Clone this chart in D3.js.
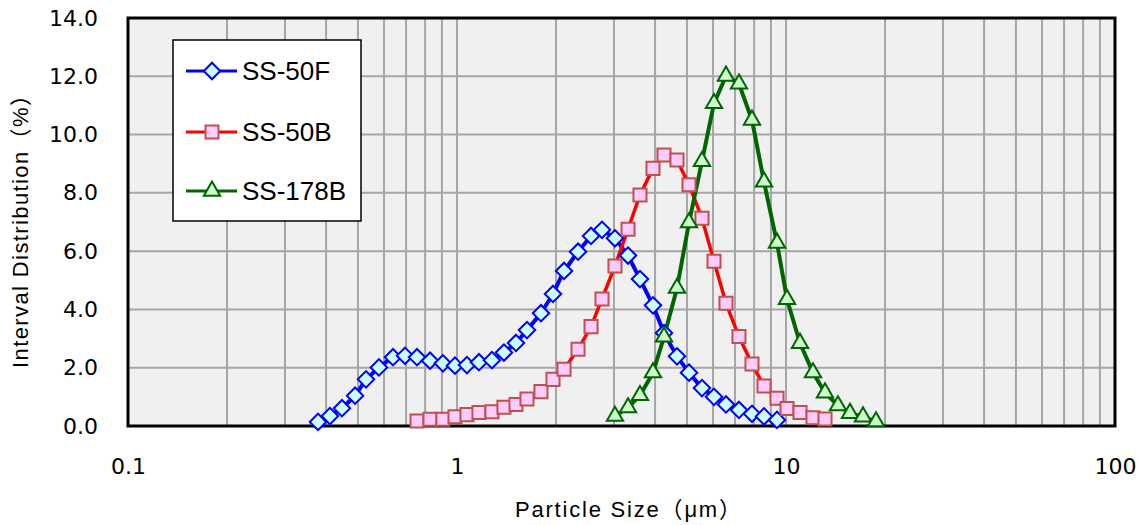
<!DOCTYPE html>
<html>
<head>
<meta charset="utf-8">
<script src="https://cdn.jsdelivr.net/npm/d3@7"></script>
<style>
  body { margin: 0; background: #fff; }
  text { font-family: "Liberation Sans", Arial, "Noto Sans CJK JP", sans-serif; fill: #000; }
  .tick text { font-family: "DejaVu Sans", "Liberation Sans", sans-serif; font-size: 22px; }
</style>
</head>
<body>
<script>
// particle sizes (µm) and interval distribution (%)
const sizes50F = [0.378, 0.411, 0.447, 0.490, 0.529, 0.579, 0.639, 0.695, 0.756, 0.828,
  0.906, 0.986, 1.072, 1.166, 1.277, 1.389, 1.511, 1.632, 1.800, 1.958,
  2.115, 2.333, 2.555, 2.759, 3.021, 3.310, 3.599, 3.942, 4.258, 4.663,
  5.072, 5.554, 6.041, 6.571, 7.196, 7.882, 8.573, 9.389];
const values50F = [0.14, 0.34, 0.61, 1.04, 1.60, 2.01, 2.36, 2.41, 2.36, 2.24,
  2.15, 2.07, 2.09, 2.19, 2.26, 2.52, 2.85, 3.29, 3.87, 4.53,
  5.32, 5.98, 6.52, 6.73, 6.44, 5.85, 5.04, 4.14, 3.19, 2.39,
  1.83, 1.30, 1.00, 0.74, 0.55, 0.42, 0.33, 0.21];

const sizes50B = [0.756, 0.828, 0.906, 0.986, 1.072, 1.166, 1.277, 1.389, 1.511, 1.632,
  1.800, 1.958, 2.115, 2.333, 2.555, 2.759, 3.021, 3.310, 3.599, 3.942,
  4.258, 4.663, 5.072, 5.554, 6.041, 6.571, 7.196, 7.882, 8.573, 9.389,
  10.07, 11.03, 12.08, 13.14];
const values50B = [0.17, 0.23, 0.23, 0.32, 0.39, 0.46, 0.49, 0.64, 0.74, 0.93,
  1.18, 1.60, 1.95, 2.63, 3.41, 4.36, 5.49, 6.75, 7.93, 8.84,
  9.30, 9.13, 8.28, 7.13, 5.65, 4.21, 3.07, 2.13, 1.37, 0.95,
  0.60, 0.46, 0.28, 0.24];

const sizes178B = [3.021, 3.310, 3.599, 3.942, 4.258, 4.663, 5.072, 5.554, 6.041, 6.571,
  7.196, 7.882, 8.573, 9.389, 10.07, 11.03, 12.08, 13.14, 14.39, 15.65,
  17.14, 18.77];
const values178B = [0.34, 0.63, 1.05, 1.83, 3.06, 4.73, 6.98, 9.08, 11.07, 12.01,
  11.74, 10.50, 8.38, 6.28, 4.35, 2.84, 1.83, 1.14, 0.70, 0.44,
  0.32, 0.15];

const seriesNames = ["SS-50F", "SS-50B", "SS-178B"];
const xTickValues = [0.1, 1, 10, 100];
const yTickValues = [0, 2, 4, 6, 8, 10, 12, 14];

const series = [
  { name: seriesNames[0], sizes: sizes50F, values: values50F, line: "#0000ff", lineW: 4,
    shape: "diamond", fill: "#ccffff", stroke: "#0000ff" },
  { name: seriesNames[1], sizes: sizes50B, values: values50B, line: "#ff0000", lineW: 3.5,
    shape: "square", fill: "#ffccff", stroke: "#c0504d" },
  { name: seriesNames[2], sizes: sizes178B, values: values178B, line: "#006600", lineW: 4,
    shape: "triangle", fill: "#ccffcc", stroke: "#006600" }
];

const width = 1147, height = 525;
const plotLeft = 128, plotRight = 1115, plotTop = 18, plotBottom = 426;

const svg = d3.select("body").append("svg")
  .attr("width", width)
  .attr("height", height);

const x = d3.scaleLog().domain([0.1, 100]).range([plotLeft, plotRight]);
const y = d3.scaleLinear().domain([0, 14]).range([plotBottom, plotTop]);

// plot background
svg.append("rect")
  .attr("x", plotLeft).attr("y", plotTop)
  .attr("width", plotRight - plotLeft).attr("height", plotBottom - plotTop)
  .attr("fill", "#f0f0f0");

// grid
svg.append("g").selectAll("line")
  .data(x.ticks().filter(d => d > 0.1 && d < 100))
  .join("line")
  .attr("x1", d => x(d)).attr("x2", d => x(d))
  .attr("y1", plotTop).attr("y2", plotBottom)
  .attr("stroke", "#a6a6a6").attr("stroke-width", 2);

svg.append("g").selectAll("line")
  .data(yTickValues.filter(d => d > 0 && d < 14))
  .join("line")
  .attr("x1", plotLeft).attr("x2", plotRight)
  .attr("y1", d => y(d)).attr("y2", d => y(d))
  .attr("stroke", "#a6a6a6").attr("stroke-width", 2);

// axes (labels only)
const xAxis = svg.append("g")
  .attr("transform", `translate(0,${plotBottom})`)
  .call(d3.axisBottom(x).tickValues(xTickValues).tickFormat(d => String(d)).tickSize(0).tickPadding(32));
xAxis.select(".domain").remove();

const yAxis = svg.append("g")
  .attr("transform", `translate(${plotLeft},0)`)
  .call(d3.axisLeft(y).tickValues(yTickValues).tickFormat(d3.format(".1f")).tickSize(0).tickPadding(30));
yAxis.select(".domain").remove();

[xAxis, yAxis].forEach(a => {
  a.attr("font-family", null).attr("font-size", null);
  a.selectAll("text").attr("font-size", 22);
});

// border
svg.append("rect")
  .attr("x", plotLeft).attr("y", plotTop)
  .attr("width", plotRight - plotLeft).attr("height", plotBottom - plotTop)
  .attr("fill", "none").attr("stroke", "#000").attr("stroke-width", 3);

// axis titles
svg.append("text")
  .attr("x", 515).attr("y", 517)
  .attr("textLength", 226)
  .attr("lengthAdjust", "spacing")
  .style("font-size", "22px")
  .text("Particle Size（μm）");

svg.append("text")
  .attr("transform", "translate(28,368) rotate(-90)")
  .attr("textLength", 284)
  .attr("lengthAdjust", "spacing")
  .style("font-size", "22px")
  .text("Interval Distribution（%）");

function markerPath(shape) {
  if (shape === "diamond") return d3.symbol(d3.symbolSquare, 135)();
  if (shape === "square") return d3.symbol(d3.symbolSquare, 170)();
  return d3.symbol(d3.symbolTriangle, 115)();
}

const line = d3.line().x(d => x(d[0])).y(d => y(d[1]));

// lines first, then markers
series.forEach(s => {
  svg.append("path")
    .datum(d3.zip(s.sizes, s.values))
    .attr("d", line)
    .attr("fill", "none")
    .attr("stroke", s.line)
    .attr("stroke-width", s.lineW)
    .attr("stroke-linejoin", "round");
});

series.forEach(s => {
  svg.append("g").selectAll("path")
    .data(d3.zip(s.sizes, s.values))
    .join("path")
    .attr("d", markerPath(s.shape))
    .attr("transform", d => `translate(${x(d[0])},${y(d[1])})` + (s.shape === "diamond" ? " rotate(45)" : ""))
    .attr("fill", s.fill)
    .attr("stroke", s.stroke)
    .attr("stroke-width", 2);
});

// legend
const legend = svg.append("g");
legend.append("rect")
  .attr("x", 173).attr("y", 40)
  .attr("width", 188).attr("height", 181)
  .attr("fill", "#fff").attr("stroke", "#000").attr("stroke-width", 1.5);

const legendY = [71, 132, 191];
series.forEach((s, i) => {
  const g = legend.append("g").attr("transform", `translate(0,${legendY[i]})`);
  g.append("line")
    .attr("x1", 186).attr("x2", 237)
    .attr("stroke", s.line).attr("stroke-width", 3);
  g.append("path")
    .attr("d", markerPath(s.shape))
    .attr("transform", "translate(212,0)" + (s.shape === "diamond" ? " rotate(45)" : ""))
    .attr("fill", s.fill).attr("stroke", s.stroke).attr("stroke-width", 2);
  g.append("text")
    .attr("x", 242).attr("dy", "0.36em")
    .style("font-size", "26px")
    .text(s.name);
});
</script>
</body>
</html>
